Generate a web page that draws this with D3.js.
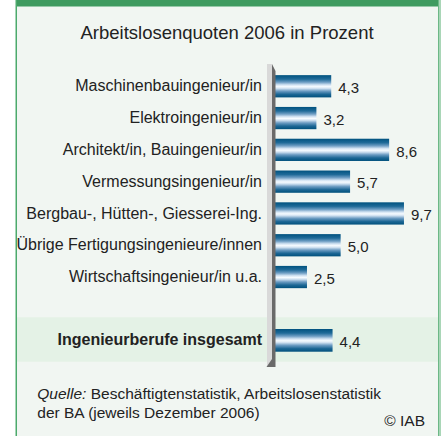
<!DOCTYPE html>
<html><head><meta charset="utf-8">
<script src="https://cdn.jsdelivr.net/npm/d3@7"></script>
<style>html,body{margin:0;padding:0;background:#fff;}svg{display:block;}</style>
</head><body>
<script>
const categories = [
  "Maschinenbauingenieur/in",
  "Elektroingenieur/in",
  "Architekt/in, Bauingenieur/in",
  "Vermessungsingenieur/in",
  "Bergbau-, Hütten-, Giesserei-Ing.",
  "Übrige Fertigungsingenieure/innen",
  "Wirtschaftsingenieur/in u.a."
];
const values = [4.3, 3.2, 8.6, 5.7, 9.7, 5.0, 2.5];
const totalCategory = ["Ingenieurberufe insgesamt"];
const totalValues = [4.4];
const title = "Arbeitslosenquoten 2006 in Prozent";

const W = 441, H = 436;
const svg = d3.select("body").append("svg").attr("width", W).attr("height", H);
const font = "'Liberation Sans', Arial, Helvetica, sans-serif";
const fmt = v => d3.format(".1f")(v).replace(".", ",");

// gradient
const defs = svg.append("defs");
const g = defs.append("linearGradient").attr("id", "barGrad").attr("x1", 0).attr("y1", 0).attr("x2", 0).attr("y2", 1);
[[0, "#00527f"], [0.18, "#1f6a98"], [0.32, "#6f9ec4"], [0.44, "#d4e4f3"], [0.52, "#f6fbff"], [0.6, "#cfe0f0"], [0.72, "#6b9bc2"], [0.86, "#1d6795"], [1, "#00507c"]]
  .forEach(([o, c]) => g.append("stop").attr("offset", o).attr("stop-color", c));

// frame
svg.append("rect").attr("x", 16).attr("y", 0).attr("width", 423).attr("height", H).attr("fill", "#f1f6f2");
svg.append("rect").attr("x", 16).attr("y", 0).attr("width", 423).attr("height", 6.5).attr("fill", "#3f9b60");
svg.append("rect").attr("x", 15.5).attr("y", 0).attr("width", 1.5).attr("height", H).attr("fill", "#4caa6c");
svg.append("rect").attr("x", 438).attr("y", 0).attr("width", 1).attr("height", H).attr("fill", "#6cb886");
svg.append("rect").attr("x", 439).attr("y", 0).attr("width", 2).attr("height", H).attr("fill", "#a9d6b7");

// total band
svg.append("rect").attr("x", 17).attr("y", 317.3).attr("width", 421).attr("height", 44.4).attr("fill", "#e4f2e6");

// title
svg.append("text").attr("x", 227).attr("y", 38.5).attr("text-anchor", "middle")
  .attr("font-family", font).attr("font-size", 18.5).attr("fill", "#222").text(title);

// scales
const x = d3.scaleLinear().domain([0, 10]).range([273.3, 408]);
const y = d3.scaleBand().domain(categories).range([65.6, 297.7]).paddingInner(0.3).paddingOuter(0.3);
const yT = d3.scaleBand().domain(totalCategory).range([329, 351.7]).padding(0);

// bars
svg.append("g").selectAll("rect").data(categories).join("rect")
  .attr("x", x(0)).attr("y", d => y(d))
  .attr("width", (d, i) => x(values[i]) - x(0)).attr("height", y.bandwidth())
  .attr("fill", "url(#barGrad)");
svg.append("g").selectAll("rect").data(totalCategory).join("rect")
  .attr("x", x(0)).attr("y", d => yT(d))
  .attr("width", (d, i) => x(totalValues[i]) - x(0)).attr("height", yT.bandwidth())
  .attr("fill", "url(#barGrad)");

// category labels
svg.append("g").selectAll("text").data(categories).join("text")
  .attr("x", 262).attr("y", d => y(d) + y.bandwidth() / 2 + 5.2)
  .attr("text-anchor", "end").attr("font-family", font).attr("font-size", 16).attr("fill", "#222")
  .text(d => d);
svg.append("g").selectAll("text").data(totalCategory).join("text")
  .attr("x", 262).attr("y", d => yT(d) + yT.bandwidth() / 2 + 5)
  .attr("text-anchor", "end").attr("font-family", font).attr("font-size", 16).attr("font-weight", "bold").attr("fill", "#222")
  .text(d => d);

// value labels
svg.append("g").selectAll("text").data(categories).join("text")
  .attr("x", (d, i) => x(values[i]) + 7).attr("y", d => y(d) + y.bandwidth() / 2 + 6.8)
  .attr("font-family", font).attr("font-size", 15).attr("fill", "#222")
  .text((d, i) => fmt(values[i]));
svg.append("g").selectAll("text").data(totalCategory).join("text")
  .attr("x", (d, i) => x(totalValues[i]) + 7).attr("y", d => yT(d) + yT.bandwidth() / 2 + 6.4)
  .attr("font-family", font).attr("font-size", 15).attr("fill", "#222")
  .text((d, i) => fmt(totalValues[i]));

// axis (3D bar)
const ax = svg.append("g");
ax.append("polygon").attr("points", "267,64 272,64 272,362 267,366.5").attr("fill", "#d9d9d9");
ax.append("polygon").attr("points", "272,64 275.5,71 275.5,367 266.5,367 272,359").attr("fill", "#6a6a6a");

// footer
const f1 = svg.append("text").attr("x", 37.3).attr("y", 399.3).attr("font-family", font).attr("font-size", 15.5).attr("fill", "#222");
f1.append("tspan").attr("font-style", "italic").text("Quelle:");
f1.append("tspan").text(" Beschäftigtenstatistik, Arbeitslosenstatistik");
svg.append("text").attr("x", 37.3).attr("y", 418.3).attr("font-family", font).attr("font-size", 15.5).attr("fill", "#222")
  .text("der BA (jeweils Dezember 2006)");
svg.append("text").attr("x", 425).attr("y", 426).attr("text-anchor", "end").attr("font-family", font).attr("font-size", 15.5).attr("fill", "#222")
  .text("© IAB");
</script>
</body></html>
